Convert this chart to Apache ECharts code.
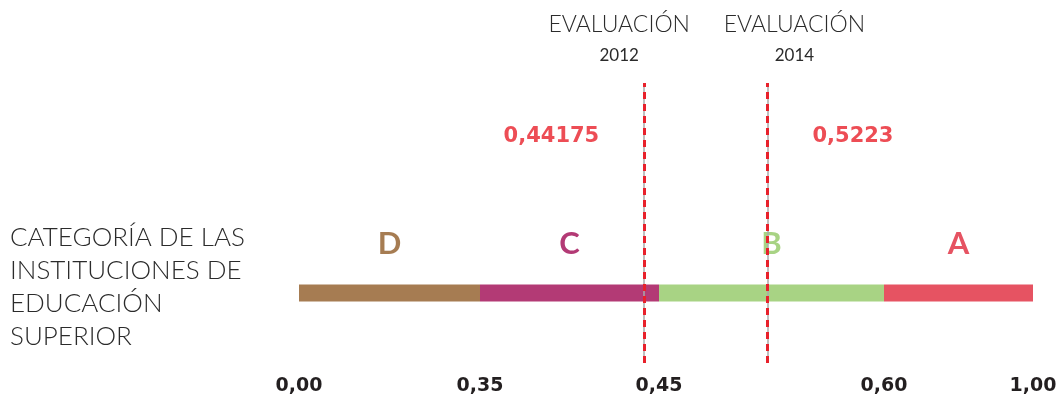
<!DOCTYPE html>
<html>
<head>
<meta charset="utf-8">
<script src="https://cdn.jsdelivr.net/npm/echarts@6/dist/echarts.min.js"></script>
<style>
    html, body { margin: 0; padding: 0; background: #fff; }
    #chart { width: 1063px; height: 400px; }
</style>
</head>
<body>
<div id="chart"></div>
<script>
// categories and their limits on the 0-1 index
const categories = ['D', 'C', 'B', 'A']
const bounds = [0, 0.35, 0.45, 0.60, 1.00]
const boundLabels = ['0,00', '0,35', '0,45', '0,60', '1,00']
const catColors = ['#a67c52', '#b33a75', '#a8d384', '#e65362']

// evaluations
const evalYears = ['2012', '2014']
const evalScores = [0.44175, 0.5223]
const evalLabels = ['0,44175', '0,5223']

// schematic ruler: drawn width (px) of each category band
const bandWidths = [181, 179, 225, 149]

const RED = '#e8212b'
const FONT = 'Lato, "Open Sans", sans-serif'
const BOLD_FONT = '"DejaVu Sans", Lato, sans-serif'

const bandStart = [0]
bandWidths.forEach((w, i) => bandStart.push(bandStart[i] + w))
const rulerMax = bandStart[bandStart.length - 1]

// maps an index value onto the ruler, band by band
const toRuler = (v) => {
    for (let i = 0; i < categories.length; i++) {
        if (v <= bounds[i + 1] || i === categories.length - 1) {
            const f = (v - bounds[i]) / (bounds[i + 1] - bounds[i])
            return bandStart[i] + f * bandWidths[i]
        }
    }
}

const chart = echarts.init(document.getElementById('chart'))

const bandSeries = categories.map((c, i) => ({
    type: 'bar',
    name: c,
    stack: 'ruler',
    barWidth: 17,
    data: [toRuler(bounds[i + 1]) - toRuler(bounds[i]), '-'],
    itemStyle: { color: catColors[i] },
    label: {
        show: true,
        position: 'top',
        distance: 25,
        formatter: c,
        color: catColors[i],
        fontFamily: FONT,
        fontWeight: 'bold',
        fontSize: 31
    },
    silent: true
}))

const titleOffsets = [[-25, 0], [27, 0]]

const evalSeries = {
    type: 'scatter',
    symbolSize: 0,
    data: evalScores.map((s, i) => ({
        value: [toRuler(s), 1],
        label: {
            position: i === 0 ? 'left' : 'right'
        }
    })),
    label: {
        show: true,
        distance: 45,
        offset: [0, -16],
        formatter: (p) => evalLabels[p.dataIndex],
        color: RED,
        fontFamily: BOLD_FONT,
        fontWeight: 'bold',
        fontSize: 21
    },
    markLine: {
        silent: true,
        symbol: 'none',
        lineStyle: { color: RED, type: [7, 5], width: 3 },
        label: {
            show: true,
            position: 'end',
            distance: 12,
            formatter: (p) => '{a|EVALUACIÓN}\n{b|' + evalYears[p.dataIndex] + '}',
            rich: {
                a: { fontFamily: FONT, fontWeight: 300, fontSize: 23, color: '#2b2b2b', lineHeight: 32, align: 'center' },
                b: { fontFamily: FONT, fontWeight: 'normal', fontSize: 17, color: '#2b2b2b', lineHeight: 30, align: 'center' }
            }
        },
        data: evalScores.map((s, i) => ({ xAxis: toRuler(s), label: { offset: titleOffsets[i] } }))
    },
    z: 5
}

// thin grey guide under the red dashes
const guideSeries = {
    type: 'scatter',
    symbolSize: 0,
    data: [],
    markLine: {
        silent: true,
        symbol: 'none',
        lineStyle: { color: '#aaaaaa', type: 'solid', width: 1.5 },
        label: { show: false },
        data: evalScores.map(s => ({ xAxis: toRuler(s) }))
    },
    z: 4
}

const option = {
    animation: false,
    title: {
        text: 'CATEGORÍA DE LAS\nINSTITUCIONES DE\nEDUCACIÓN\nSUPERIOR',
        left: 10,
        top: 221,
        padding: 0,
        textStyle: {
            fontFamily: FONT,
            fontWeight: 300,
            fontSize: 26,
            lineHeight: 33,
            color: '#2b2b2b'
        }
    },
    grid: { left: 299, right: 30, top: 83, bottom: 37 },
    xAxis: {
        type: 'value',
        min: 0,
        max: rulerMax,
        axisLine: { show: false },
        axisTick: { show: false },
        splitLine: { show: false },
        axisLabel: {
            customValues: bounds.map(toRuler),
            formatter: (val) => {
                const i = bounds.findIndex(b => Math.abs(toRuler(b) - val) < 0.5)
                return i >= 0 ? boundLabels[i] : ''
            },
            margin: 14,
            color: '#231f20',
            fontFamily: BOLD_FONT,
            fontWeight: 'bold',
            fontSize: 19,
            alignMinLabel: 'center',
            alignMaxLabel: 'center'
        }
    },
    yAxis: {
        type: 'category',
        data: ['bar', 'eval'],
        show: false
    },
    series: [...bandSeries, guideSeries, evalSeries]
}

chart.setOption(option)
</script>
</body>
</html>
